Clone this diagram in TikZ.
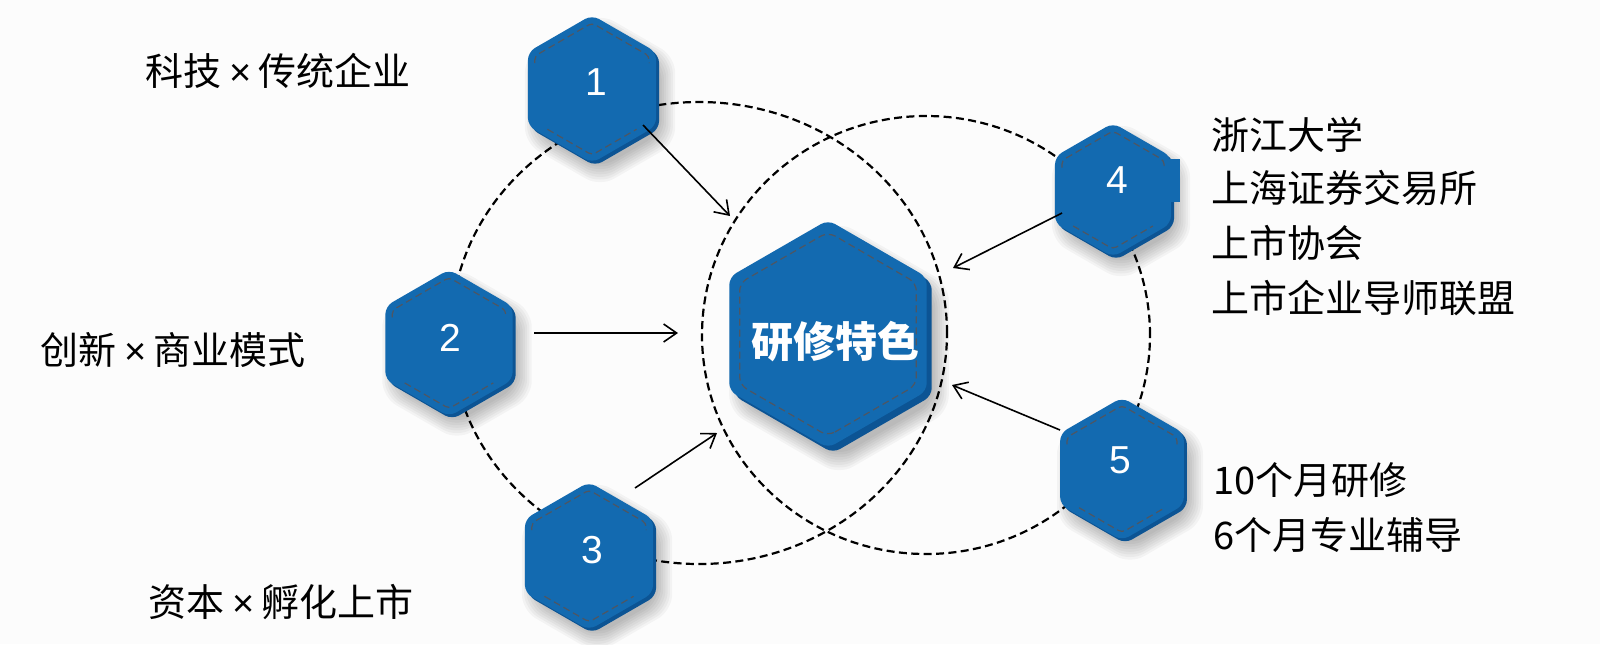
\documentclass[tikz,border=0pt]{standalone}
\usepackage{fontspec}
\newfontfamily\cjk{Noto Sans CJK SC}
\newfontfamily\lat{Liberation Sans}
\usetikzlibrary{arrows.meta,calc}
\definecolor{hexblue}{RGB}{19,106,176}
\definecolor{hexdark}{RGB}{12,84,148}
\definecolor{stitchc}{RGB}{78,86,98}
\definecolor{bgc}{RGB}{252,252,252}
\newcommand\hexpath[1]{(90:#1)--(30:#1)--(-30:#1)--(-90:#1)--(-150:#1)--(150:#1)--cycle}
\newcommand\tms{\hspace{0.2em}{\lat ×}\hspace{0.2em}}
% #1 cx, #2 cy, #3 R, #4 back offset, #5 shadow offset
\newcommand\hexbody[5]{%
  \begin{scope}[shift={(#1+#5,#2+#5+3)}]
    \foreach \k in {1,...,8}{%
      \pgfmathsetmacro\rr{#3-8+2.6*\k}
      \fill[black,opacity=0.035,rounded corners=8pt] \hexpath{\rr};
    }
  \end{scope}
  \begin{scope}[shift={(#1+#4,#2+#4)}]
    \fill[hexdark,rounded corners=4pt] \hexpath{#3};
  \end{scope}
  \begin{scope}[shift={(#1,#2)}]
    \fill[hexblue,rounded corners=4pt] \hexpath{#3};
  \end{scope}}
\newcommand\hexstitch[3]{% small hexagons: top and bottom chevrons
  \begin{scope}[shift={(#1,#2)}]
    \pgfmathsetmacro\ri{#3-8}
    \draw[stitchline,rounded corners=2pt] ($(-150:\ri)+(0,7)$) -- (-150:\ri) -- (-90:\ri) -- (-30:\ri) -- ($(-30:\ri)+(0,7)$);
    \draw[stitchline,rounded corners=2pt] ($(150:\ri)!0.22!(90:\ri)$) -- (90:\ri) -- ($(30:\ri)!0.22!(90:\ri)$);
  \end{scope}}
\tikzset{
  x=0.5pt, y=-0.5pt,
  lbl/.style={font=\lat\fontsize{19.5pt}{22pt}\selectfont, text=white, inner sep=0pt},
  ctxt/.style={font=\cjk\bfseries\fontsize{21pt}{24pt}\selectfont, text=white, inner sep=0pt},
  side/.style={font=\cjk\fontsize{19pt}{24pt}\selectfont, anchor=west, inner sep=0pt, text=black},
  arr/.style={line width=0.8pt, -{Straight Barb[length=6.5pt,width=9pt]}},
  circ/.style={line width=1.1pt, dash pattern=on 4pt off 2.2pt},
  stitchline/.style={draw=stitchc, line width=0.6pt, dash pattern=on 3.5pt off 2pt}
}
\begin{document}
\begin{tikzpicture}
\fill[bgc] (0,0) rectangle (1600,644);
\useasboundingbox (0,0) rectangle (1600,644);

% dashed circles
\draw[circ] (699,333) ellipse [x radius=124pt, y radius=115.5pt];
\draw[circ] (926,335) ellipse [x radius=112pt, y radius=109.5pt];

% hexagons
\hexbody{592}{89}{74}{3}{8}
\hexstitch{592}{89}{74}
\hexbody{449}{343}{73.5}{3}{8}
\hexstitch{449}{343}{73.5}
\hexbody{589}{556}{74}{3}{8}
\hexstitch{589}{556}{74}
\hexbody{1113}{190}{67}{3}{8}
\hexstitch{1113}{190}{67}
\fill[hexblue] (1166,159) rectangle (1180,202);
\hexbody{1122}{469}{71.5}{3}{8}
\hexstitch{1122}{469}{71.5}
\hexbody{828}{334}{114}{5}{11}
\begin{scope}[shift={(828,334)}]
  \draw[stitchline,rounded corners=4pt] \hexpath{102};
\end{scope}

% labels in hexagons
\node[lbl] (h1) at (596,82) {1};
\node[lbl] (h2) at (450,338) {2};
\node[lbl] (h3) at (592,550) {3};
\node[lbl] (h4) at (1117,180) {4};
\node[lbl] (h5) at (1120,460) {5};
\node[ctxt] (hc) at (835,342) {研修特色};

% side texts
\node[side] (t1) at (145,71) {科技\tms 传统企业};
\node[side] (t2) at (40,350) {创新\tms 商业模式};
\node[side] (t3) at (148,602) {资本\tms 孵化上市};
\node[side] (t4a) at (1211,135) {浙江大学};
\node[side] (t4b) at (1211,188) {上海证券交易所};
\node[side] (t4c) at (1211,243) {上市协会};
\node[side] (t4d) at (1211,298) {上市企业导师联盟};
\node[side] (t5a) at (1213,480) {10个月研修};
\node[side] (t5b) at (1213,535) {6个月专业辅导};

% arrows
\coordinate (s1) at (643,125); \coordinate (e1) at (730,216);
\coordinate (s2) at (534,333); \coordinate (e2) at (678,333);
\coordinate (s3) at (635,488); \coordinate (e3) at (717,433);
\coordinate (s4) at (1062,213); \coordinate (e4) at (953,268);
\coordinate (s5) at (1060,430); \coordinate (e5) at (952,385);
\draw[arr] (s1) -- (e1);
\draw[arr] (s2) -- (e2);
\draw[arr] (s3) -- (e3);
\draw[arr] (s4) -- (e4);
\draw[arr] (s5) -- (e5);
\end{tikzpicture}
\end{document}
